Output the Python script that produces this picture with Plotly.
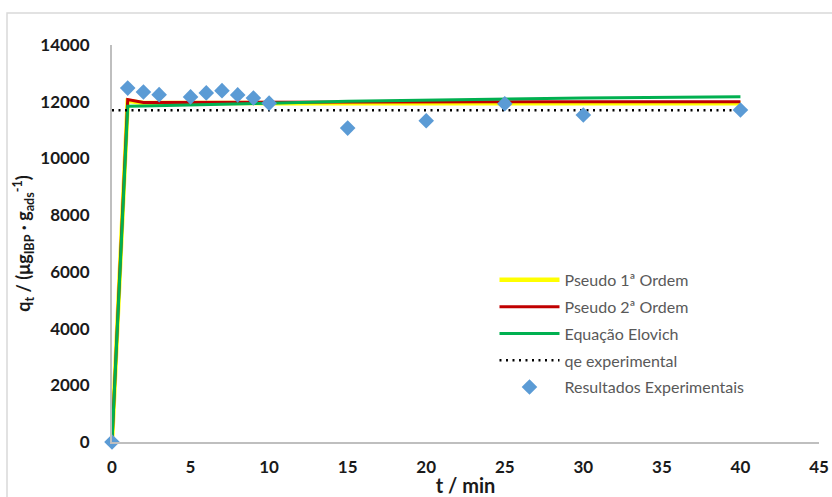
import plotly.graph_objects as go

# ---- data ----
t_model = [0, 1, 2, 3, 5, 6, 7, 8, 9, 10, 15, 20, 25, 30, 40]
pseudo1 = [0, 12030, 11955, 11950, 11950, 11950, 11950, 11950, 11950, 11950, 11950, 11950, 11950, 11950, 11950]
pseudo2 = [0, 12080, 11970, 11970, 11976, 11978, 11980, 11982, 11984, 11985, 11990, 11993, 11995, 11997, 12000]
elovich = [0, 11840, 11845, 11860, 11890, 11900, 11910, 11920, 11935, 11950, 12015, 12060, 12105, 12135, 12175]

t_qe = [0, 40]
qe_exp = [11700, 11700]

t_exp = [0, 1, 2, 3, 5, 6, 7, 8, 9, 10, 15, 20, 25, 30, 40]
q_exp = [0, 12480, 12340, 12250, 12170, 12310, 12390, 12240, 12130, 11950, 11070, 11330, 11930, 11530, 11710]

x_ticks = [0, 5, 10, 15, 20, 25, 30, 35, 40, 45]
y_ticks = [0, 2000, 4000, 6000, 8000, 10000, 12000, 14000]

FONT = "Lato, 'Open Sans', sans-serif"

fig = go.Figure()
fig.add_trace(go.Scatter(x=t_model, y=pseudo1, mode="lines", name="Pseudo 1ª Ordem",
                         legendgroup="a",
                         line=dict(color="#ffff00", width=4.5)))
fig.add_trace(go.Scatter(x=t_model, y=pseudo2, mode="lines", name="Pseudo 2ª Ordem",
                         legendgroup="b",
                         line=dict(color="#c00000", width=3)))
fig.add_trace(go.Scatter(x=t_model, y=elovich, mode="lines", name="Equação Elovich",
                         legendgroup="c",
                         line=dict(color="#00b050", width=3)))
fig.add_trace(go.Scatter(x=t_qe, y=qe_exp, mode="lines", name="qe experimental",
                         legendgroup="d",
                         line=dict(color="#000000", width=2.5, dash="2px,4.5px")))
fig.add_trace(go.Scatter(x=t_exp, y=q_exp, mode="markers", name="Resultados Experimentais",
                         legendgroup="e", cliponaxis=False,
                         marker=dict(symbol="diamond", size=12, color="#5b9bd5",
                                     line=dict(width=0))))

fig.update_layout(
    width=832, height=497,
    margin=dict(l=112, r=13, t=45, b=55, autoexpand=False),
    paper_bgcolor="white", plot_bgcolor="white",
    font=dict(family=FONT, color="#000000"),
    showlegend=True,
    legend=dict(x=0.541, y=0.451, xanchor="left", yanchor="top",
                bgcolor="rgba(0,0,0,0)", itemwidth=60, tracegroupgap=3,
                font=dict(family=FONT, size=16, color="#595959")),
    shapes=[dict(type="rect", xref="paper", yref="paper",
                 x0=-0.1485, x1=1.2, y0=-0.3, y1=1.0806,
                 line=dict(color="#d9d9d9", width=1.5), layer="below")],
)

fig.update_xaxes(range=[0, 45], tickvals=x_ticks, ticktext=[str(v) for v in x_ticks],
                 automargin=False,
                 showgrid=False, zeroline=False, showline=True, linecolor="#bfbfbf", linewidth=2,
                 ticks="outside", ticklen=9, tickcolor="rgba(0,0,0,0)",
                 tickfont=dict(family=FONT, size=17, color="#1a1a1a", weight="bold"),
                 title=dict(text="t / min", standoff=7,
                            font=dict(family=FONT, size=20, color="#1a1a1a", weight="bold")))
fig.update_yaxes(range=[0, 14000], tickvals=y_ticks, ticktext=[str(v) for v in y_ticks],
                 automargin=False,
                 showgrid=False, zeroline=False, showline=True, linecolor="#bfbfbf", linewidth=2,
                 ticks="outside", ticklen=17, tickcolor="rgba(0,0,0,0)",
                 tickfont=dict(family=FONT, size=17, color="#1a1a1a", weight="bold"),
                 title=dict(text="q<sub>t</sub> / (μg<sub>IBP</sub> · g<sub>ads</sub><sup>-1</sup>)",
                            standoff=5,
                            font=dict(family=FONT, size=18, color="#1a1a1a", weight="bold")))

fig.write_html("out.html")
